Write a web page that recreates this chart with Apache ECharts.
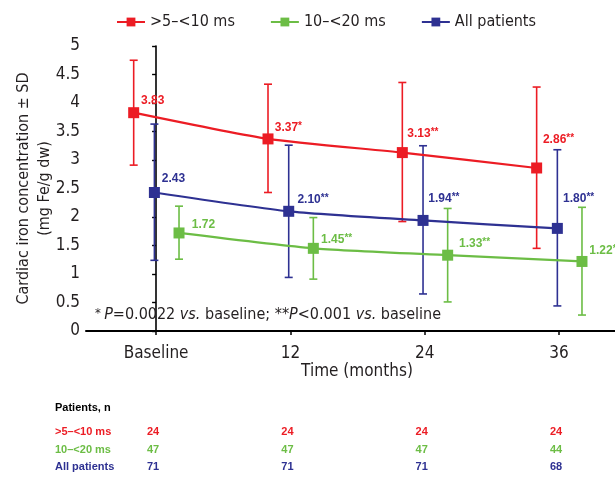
<!DOCTYPE html>
<html>
<head>
<meta charset="utf-8">
<script src="https://cdn.jsdelivr.net/npm/echarts@6/dist/echarts.min.js"></script>
<style>
html,body{margin:0;padding:0;background:#fff;}
#chart{width:615px;height:479px;}
</style>
</head>
<body>
<div id="chart"></div>
<script>
// ---------- DATA ----------
const months = [0, 12, 24, 36];
const tickLabels = ['Baseline', '12', '24', '36'];
const seriesNames = ['>5\u2013<10 ms', '10\u2013<20 ms', 'All patients'];

const redMean   = [3.83, 3.37, 3.13, 2.86];
const redUpper  = [4.75, 4.33, 4.36, 4.28];
const redLower  = [2.91, 2.43, 1.92, 1.45];
const redMarks  = ['', '*', '**', '**'];

const greenMean  = [1.72, 1.45, 1.33, 1.22];
const greenUpper = [2.19, 1.99, 2.15, 2.17];
const greenLower = [1.26, 0.91, 0.51, 0.28];
const greenMarks = ['', '**', '**', '**'];

const blueMean  = [2.43, 2.10, 1.94, 1.80];
const blueUpper = [3.63, 3.26, 3.25, 3.18];
const blueLower = [1.24, 0.94, 0.65, 0.44];
const blueMarks = ['', '**', '**', '**'];

const tableTitle = 'Patients, n';
const redN   = [24, 24, 24, 24];
const greenN = [47, 47, 47, 44];
const allN   = [71, 71, 71, 68];

const yAxisTitle = 'Cardiac iron concentration \u00b1 SD\n(mg Fe/g dw)';
const xAxisTitle = 'Time (months)';

// ---------- STYLE ----------
const RED = '#ec1c24', GREEN = '#6cbd45', BLUE = '#2e3192';
const NARROW = "'DejaVu Sans Condensed','Liberation Sans Narrow','Roboto',sans-serif";
const ARIAL = "'Liberation Sans',Arial,sans-serif";
const dodge = { red: -2.0, green: 2.05, blue: -0.15 };
const SYM = 11;
const labelShift = {
  red:   [[7.4, -11.7], [6.7, -11.2], [5, -19.3], [6.3, -28.7]],
  blue:  [[7.4, -14.2], [8.7, -12], [5.3, -22], [5.7, -30]],
  green: [[12.7, -8.7], [7.7, -8.4], [11.3, -11.2], [7.3, -10.5]]
};

function lineSeries(name, key, color, mean, marks) {
  return {
    name: name,
    type: 'line',
    smooth: 0.2,
    symbol: 'rect',
    symbolSize: SYM,
    z: 5,
    itemStyle: { color: color },
    lineStyle: { color: color, width: 2.2 },
    data: months.map((m, i) => ({
      value: [m + dodge[key], mean[i]],
      label: {
        show: true,
        position: 'right',
        distance: 0,
        offset: [labelShift[key][i][0] - SYM / 2, labelShift[key][i][1]],
        formatter: '{v|' + mean[i].toFixed(2) + '}' + (marks[i] ? '{s|' + marks[i] + '}' : ''),
        rich: {
          v: { color: color, fontFamily: ARIAL, fontWeight: 'bold', fontSize: 12 },
          s: { color: color, fontFamily: ARIAL, fontWeight: 'bold', fontSize: 10, padding: [0, 0, 3, 0] }
        }
      }
    })),
    animation: false
  };
}

function errSeries(key, color, upper, lower) {
  return {
    name: key + '-err',
    type: 'custom',
    z: 2,
    renderItem: function (params, api) {
      const x = api.value(0);
      const top = api.coord([x, api.value(1)]);
      const bot = api.coord([x, api.value(2)]);
      const hw = 4;
      const st = { stroke: color, lineWidth: 1.6 };
      return {
        type: 'group',
        children: [
          { type: 'line', shape: { x1: top[0], y1: top[1], x2: bot[0], y2: bot[1] }, style: st },
          { type: 'line', shape: { x1: top[0] - hw, y1: top[1], x2: top[0] + hw, y2: top[1] }, style: st },
          { type: 'line', shape: { x1: bot[0] - hw, y1: bot[1], x2: bot[0] + hw, y2: bot[1] }, style: st }
        ]
      };
    },
    data: months.map((m, i) => [m + dodge[key], upper[i], lower[i]]),
    animation: false
  };
}

const chart = echarts.init(document.getElementById('chart'), null, { renderer: 'canvas' });

const option = {
  backgroundColor: '#ffffff',
  animation: false,
  legend: {
    data: seriesNames,
    left: 111,
    top: 9,
    itemWidth: 28,
    itemHeight: 11,
    itemGap: 35,
    textStyle: { fontFamily: NARROW, fontSize: 16, color: '#231f20' }
  },
  grid: { left: 86, right: 0, top: 46, bottom: 148, outerBoundsMode: 'none' },
  xAxis: {
    type: 'value',
    min: -6.26,
    max: 41,
    axisLine: { lineStyle: { color: '#000', width: 2 } },
    axisTick: { show: true, customValues: months, length: 4, lineStyle: { color: '#000', width: 1.5 } },
    axisLabel: {
      customValues: months,
      margin: 14,
      fontFamily: NARROW,
      fontSize: 17,
      color: '#231f20',
      formatter: function (v) { const i = months.indexOf(v); return i >= 0 ? tickLabels[i] : ''; }
    },
    splitLine: { show: false }
  },
  yAxis: {
    type: 'value',
    min: 0,
    max: 5,
    interval: 0.5,
    name: yAxisTitle,
    nameLocation: 'middle',
    nameGap: 31,
    nameMoveOverlap: false,
    nameRotate: 90,
    nameTextStyle: { fontFamily: NARROW, fontSize: 16, color: '#231f20', lineHeight: 21 },
    axisLine: { show: true, lineStyle: { color: '#000', width: 1.6 } },
    axisTick: { show: true, length: 4, lineStyle: { color: '#000', width: 1.4 } },
    axisLabel: { margin: 6, fontFamily: NARROW, fontSize: 17, color: '#231f20' },
    splitLine: { show: false }
  },
  series: [
    errSeries('red', RED, redUpper, redLower),
    errSeries('blue', BLUE, blueUpper, blueLower),
    errSeries('green', GREEN, greenUpper, greenLower),
    lineSeries(seriesNames[0], 'red', RED, redMean, redMarks),
    lineSeries(seriesNames[1], 'green', GREEN, greenMean, greenMarks),
    lineSeries(seriesNames[2], 'blue', BLUE, blueMean, blueMarks)
  ]
};
chart.setOption(option);

// ---------- annotations & table ----------
const gfx = [];
gfx.push({
  type: 'text', left: 95, top: 307, z: 10,
  style: {
    text: '{a|*} {i|P}{n|=0.0022 }{i|vs.}{n| baseline; **}{i|P}{n|<0.001 }{i|vs.}{n| baseline}',
    rich: {
      a: { fontFamily: NARROW, fontSize: 13, fill: '#231f20', padding: [0, 0, 3, 0] },
      n: { fontFamily: NARROW, fontSize: 16, fill: '#231f20' },
      i: { fontFamily: NARROW, fontSize: 16, fill: '#231f20', fontStyle: 'italic' }
    }
  }
});
gfx.push({
  type: 'text', x: 357, y: 372, z: 10,
  style: { text: xAxisTitle, fontFamily: NARROW, fontSize: 17, fill: '#231f20', align: 'center', verticalAlign: 'middle' }
});
gfx.push({
  type: 'text', x: 55, y: 408, z: 10,
  style: { text: tableTitle, fontFamily: ARIAL, fontWeight: 'bold', fontSize: 11, fill: '#000', verticalAlign: 'middle' }
});
const rows = [
  { name: seriesNames[0], color: RED, vals: redN, y: 432 },
  { name: seriesNames[1], color: GREEN, vals: greenN, y: 450 },
  { name: seriesNames[2], color: BLUE, vals: allN, y: 467 }
];
rows.forEach(r => {
  gfx.push({
    type: 'text', x: 55, y: r.y, z: 10,
    style: { text: r.name, fontFamily: ARIAL, fontWeight: 'bold', fontSize: 11, fill: r.color, verticalAlign: 'middle' }
  });
  months.forEach((m, i) => {
    const px = chart.convertToPixel({ xAxisIndex: 0 }, m);
    gfx.push({
      type: 'text', x: px - 3, y: r.y, z: 10,
      style: { text: String(r.vals[i]), fontFamily: ARIAL, fontWeight: 'bold', fontSize: 11, fill: r.color, align: 'center', verticalAlign: 'middle' }
    });
  });
});
chart.setOption({ graphic: gfx });
</script>
</body>
</html>
